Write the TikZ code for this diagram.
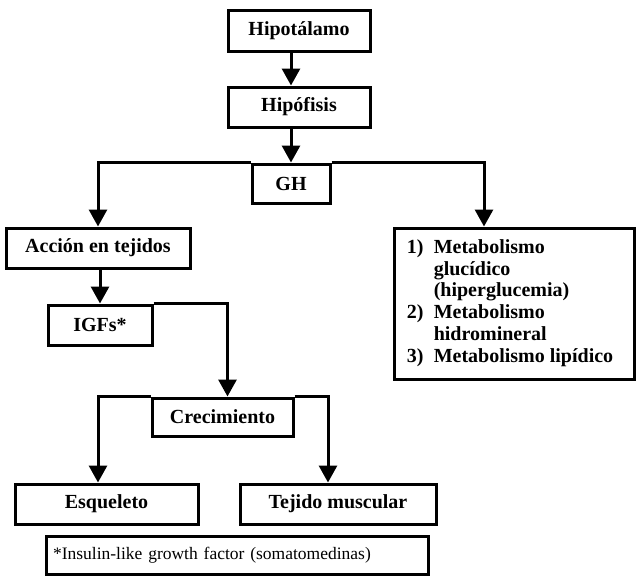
\documentclass[tikz,border=0pt]{standalone}
\usepackage{fontspec}
\setmainfont{Liberation Serif}
\usetikzlibrary{arrows.meta}
\tikzset{
  bx/.style={draw, line width=3pt, inner sep=0pt, font=\fontsize{20}{21.8}\selectfont\bfseries},
  arr/.style={line width=3pt, -{Triangle[length=17pt,width=18pt]}},
  ln/.style={line width=3pt}
}
\begin{document}
\begin{tikzpicture}[x=1pt,y=-1pt]
\useasboundingbox (0,0) rectangle (640,576);
\node[bx, minimum width=142pt, minimum height=41pt] (hipot) at (299,30.5) {Hipotálamo};
\node[bx, minimum width=142pt, minimum height=40pt] (hipof) at (299,107) {Hipófisis};
\node[bx, minimum width=78pt, minimum height=39pt] (gh) at (291,183.5) {GH};
\node[bx, minimum width=184pt, minimum height=40pt] (acc) at (98,248) {Acción en tejidos};
\node[bx, minimum width=240pt, minimum height=151pt] (met) at (514,303.5) {%
  \raisebox{-2.5pt}{\begin{tabular}{@{}l@{}l@{\hspace{8pt}}}
  \makebox[27pt][l]{1)} & Metabolismo\\
   & glucídico\\
   & (hiperglucemia)\\
  \makebox[27pt][l]{2)} & Metabolismo\\
   & hidromineral\\
  \makebox[27pt][l]{3)} & Metabolismo lipídico
  \end{tabular}}};
\node[bx, minimum width=104pt, minimum height=40pt] (igf) at (100,325) {IGFs*};
\node[bx, minimum width=141pt, minimum height=38pt] (crec) at (222.5,417) {Crecimiento};
\node[bx, minimum width=183pt, minimum height=40pt] (esq) at (106.5,504) {Esqueleto};
\node[bx, minimum width=196pt, minimum height=40pt] (tej) at (338,504) {Tejido muscular};
\node[draw, line width=3pt, inner xsep=7pt, inner ysep=0pt, text width=368pt, align=left,
      minimum height=38pt, font=\fontsize{17.5}{20}\selectfont] (foot) at (237,555)
      {*Insulin-like growth factor (somatomedinas)};
% connectors
\draw[arr] (hipot.south -| gh.north) -- (hipof.north -| gh.north);
\draw[arr] (hipof.south -| gh.north) -- (gh.north);
\draw[arr] (gh.north west) -| (acc.north);
\draw[arr] (gh.north east) -| ([xshift=-30pt]met.north);
\draw[arr] (acc.south -| igf.north) -- (igf.north);
\draw[arr] (igf.north east) -| ([xshift=5pt]crec.north);
\draw[arr] (crec.north west) -| ([xshift=-8.5pt]esq.north);
\draw[arr] (crec.north east) -| ([xshift=-10pt]tej.north);
\end{tikzpicture}
\end{document}
